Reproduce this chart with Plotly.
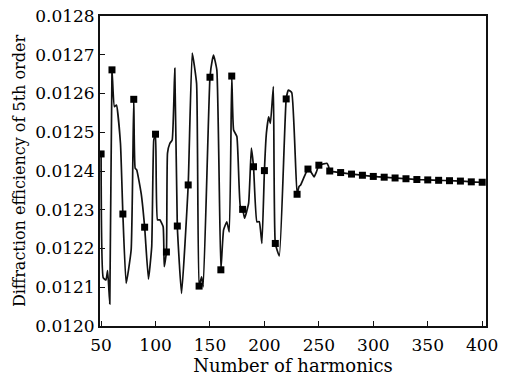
import plotly.graph_objects as go

# Marker values (every 10 harmonics)
marker_h = list(range(50, 401, 10))
marker_v = [0.012444, 0.012661, 0.012289, 0.012585, 0.012255, 0.012495, 0.012191,
            0.012258, 0.012364, 0.012103, 0.012642, 0.012145, 0.012645, 0.012301,
            0.012411, 0.012401, 0.012213, 0.012586, 0.012340, 0.012405, 0.012415,
            0.012400, 0.012396, 0.012392, 0.012389, 0.012386, 0.012384, 0.012382,
            0.012380, 0.012378, 0.012377, 0.012376, 0.012375, 0.012374, 0.012372,
            0.012371]

# Intermediate points of the curve between markers
detail_h = [52, 54.5, 56, 58, 62.2, 64.1, 67.8, 73, 77.6, 81.3, 82.7, 86.8, 93.5,
            96.5, 98.4, 101.8, 103.9, 107, 108, 111, 113.1, 115.3, 117.7, 123.9,
            133.7, 137.7, 142.3, 143.8, 152.1, 153.3, 156.3, 162.5, 165.5, 167.7,
            171.7, 174.7, 177.9, 181.8, 185.5, 188, 193.1, 195.3, 197.7, 201.8,
            203.9, 205.5, 208.2, 213.7, 222, 225.1, 231.8, 233.3, 237.9, 242.6,
            245.6, 247.8, 253.9, 257.3, 258.8]
detail_v = [0.012124, 0.012119, 0.012143, 0.012057, 0.012566, 0.012570, 0.012471,
            0.012110, 0.012196, 0.012407, 0.012403, 0.012342, 0.012121, 0.012205,
            0.012480, 0.012274, 0.012274, 0.012256, 0.012153, 0.012446, 0.012471,
            0.012480, 0.012665, 0.012084, 0.012704, 0.012626, 0.012127, 0.012101,
            0.012686, 0.012699, 0.012661, 0.012248, 0.012269, 0.012243, 0.012506,
            0.012489, 0.012308, 0.012278, 0.012317, 0.012459, 0.012269, 0.012269,
            0.012213, 0.012497, 0.012540, 0.012523, 0.012618, 0.012181, 0.012609,
            0.012602, 0.012360, 0.012364, 0.012394, 0.012398, 0.012385, 0.012398,
            0.012418, 0.012420, 0.012413]

x_ticks = [50, 100, 150, 200, 250, 300, 350, 400]
y_ticks = [0.0120, 0.0121, 0.0122, 0.0123, 0.0124, 0.0125, 0.0126, 0.0127, 0.0128]

pts = sorted(zip(marker_h + detail_h, marker_v + detail_v))
line_h = [p[0] for p in pts]
line_v = [p[1] for p in pts]

FONT = "DejaVu Serif"

fig = go.Figure()
fig.add_trace(go.Scatter(x=line_h, y=line_v, mode="lines",
                         line=dict(color="#111111", width=1.7, shape="spline",
                                   smoothing=0.4),
                         showlegend=False, hoverinfo="skip"))
fig.add_trace(go.Scatter(x=marker_h, y=marker_v, mode="markers",
                         marker=dict(symbol="square", size=7, color="#000000"),
                         showlegend=False))

axis_common = dict(showgrid=False, zeroline=False, showline=True, linecolor="#111111",
                   linewidth=1.8, mirror=True, ticks="inside", ticklen=5,
                   tickwidth=1.4, tickcolor="#111111", automargin=False,
                   tickfont=dict(family=FONT, size=17, color="#000000"))

fig.update_xaxes(range=[49, 403.5], tickvals=x_ticks,
                 ticktext=[str(v) for v in x_ticks], ticklabelstandoff=3,
                 title=dict(text="Number of harmonics", standoff=5,
                            font=dict(family=FONT, size=18, color="#000000")),
                 **axis_common)
fig.update_yaxes(range=[0.0120, 0.0128], tickvals=y_ticks,
                 ticktext=[f"{v:.4f}" for v in y_ticks],
                 title=dict(text="Diffraction efficiency of 5th order", standoff=6,
                            font=dict(family=FONT, size=16, color="#000000")),
                 **axis_common)

fig.update_layout(width=505, height=379, plot_bgcolor="white", paper_bgcolor="white",
                  margin=dict(l=100, r=19, t=16, b=53))

fig.write_html("out.html")
